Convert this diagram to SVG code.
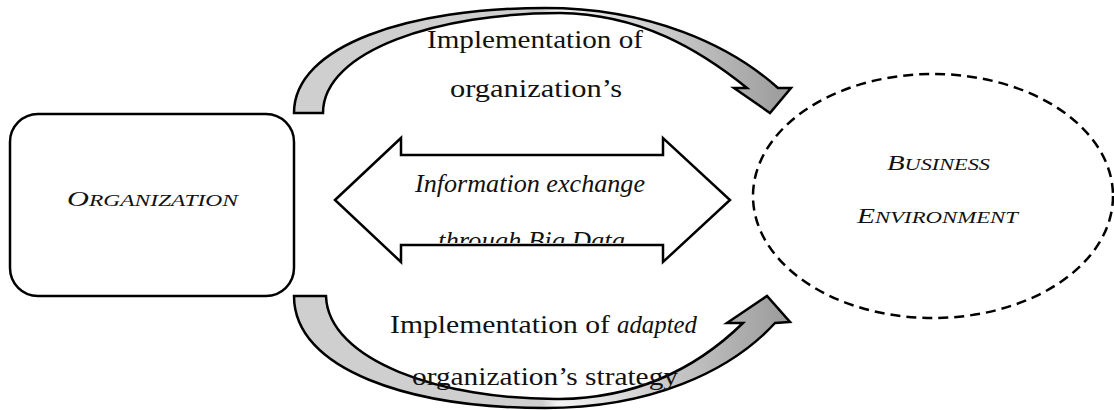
<svg xmlns="http://www.w3.org/2000/svg" width="1114" height="410" viewBox="0 0 1114 410">
<defs>
<style>
.t{font-family:"Liberation Serif","Times New Roman",serif;font-size:25px;fill:#111}
.i{font-style:italic}
.sh{stroke:#000;stroke-width:2.5;stroke-linejoin:miter}
</style>
<linearGradient id="gTop" gradientUnits="userSpaceOnUse" x1="294" y1="0" x2="791" y2="0">
<stop offset="0" stop-color="#cfcfcf"/>
<stop offset="0.5" stop-color="#cfcfcf"/>
<stop offset="0.53" stop-color="#f4f4f4"/>
<stop offset="1" stop-color="#9a9a9a"/>
</linearGradient>
<linearGradient id="gBot" gradientUnits="userSpaceOnUse" x1="294" y1="0" x2="791" y2="0">
<stop offset="0" stop-color="#cfcfcf"/>
<stop offset="0.5" stop-color="#cfcfcf"/>
<stop offset="0.53" stop-color="#f4f4f4"/>
<stop offset="1" stop-color="#9a9a9a"/>
</linearGradient>
<clipPath id="clipMid"><rect x="330" y="130" width="400" height="113"/></clipPath>
</defs>

<g id="connectors">
<path id="arrow-top" class="sh" fill="url(#gTop)" d="M294,113 C294,45 410,8 545,8 C650,8 730,45 778,88 L791,88 L770,113 L734,88 L747,88 C700,50 640,14 560,13 C440,13 323,50 323,113 Z"/>
<path id="arrow-bottom" class="sh" fill="url(#gBot)" d="M294,296 C294,370 410,408 545,408 C650,408 730,372 775,323 L790,322 L767,296 L727,323 L743,323 C700,365 640,398 560,399 C440,400 328,360 326,296 Z"/>
<path id="arrow-exchange" class="sh" fill="#fff" d="M335,200 L401,138 L401,155 L663,155 L663,138 L730,200 L663,262 L663,245 L401,245 L401,262 Z"/>
</g>

<g id="organization">
<rect x="10" y="114" width="284" height="182" rx="28" ry="28" fill="#fff" stroke="#000" stroke-width="2.5"/>
<text class="t i" x="67" y="206" textLength="171" lengthAdjust="spacingAndGlyphs"><tspan font-size="22">O</tspan><tspan font-size="17">RGANIZATION</tspan></text>
</g>

<g id="business-environment">
<ellipse cx="933" cy="196" rx="180" ry="122" fill="none" stroke="#000" stroke-width="2.5" stroke-dasharray="10 6"/>
<text class="t i" x="887" y="170" textLength="103" lengthAdjust="spacingAndGlyphs"><tspan font-size="22">B</tspan><tspan font-size="17">USINESS</tspan></text>
<text class="t i" x="857" y="223" textLength="161" lengthAdjust="spacingAndGlyphs"><tspan font-size="22">E</tspan><tspan font-size="17">NVIRONMENT</tspan></text>
</g>

<g id="labels">
<text class="t" x="427" y="48" textLength="216" lengthAdjust="spacingAndGlyphs">Implementation of</text>
<text class="t" x="450" y="97" textLength="172" lengthAdjust="spacingAndGlyphs">organization’s</text>
<text class="t i" x="415" y="192" textLength="230" lengthAdjust="spacingAndGlyphs">Information exchange</text>
<g clip-path="url(#clipMid)">
<text class="t i" x="438" y="249" textLength="187" lengthAdjust="spacingAndGlyphs">through Big Data</text>
</g>
<text class="t" y="333"><tspan x="390" textLength="220" lengthAdjust="spacingAndGlyphs">Implementation of</tspan> <tspan class="i" x="617" textLength="80" lengthAdjust="spacingAndGlyphs">adapted</tspan></text>
<text class="t" x="412" y="385" textLength="266" lengthAdjust="spacingAndGlyphs">organization’s strategy</text>
</g>
</svg>
